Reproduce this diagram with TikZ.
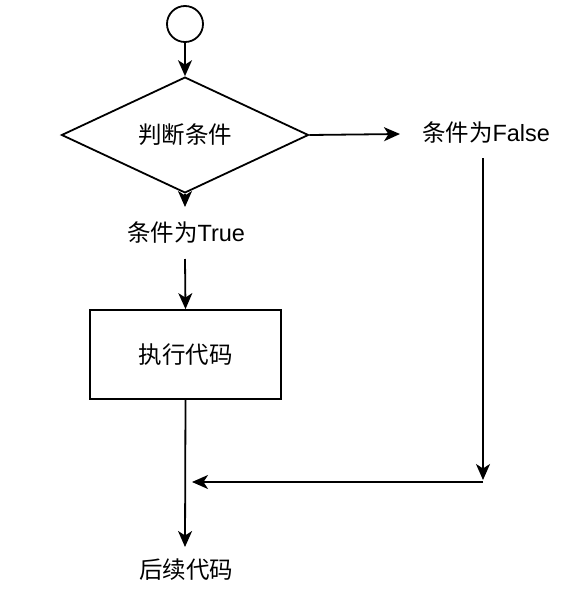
\documentclass[tikz,border=0pt]{standalone}
\usepackage{fontspec}
\setmainfont{Liberation Sans}
\newfontfamily\cjk{Noto Sans CJK SC}
\usetikzlibrary{shapes.geometric,arrows.meta}
\begin{document}
\begin{tikzpicture}[x=1pt,y=-1pt,
  line width=1.8pt,
  flow/.style={-{Stealth[length=16pt,width=14pt,inset=4.5pt]}},
  txt/.style={font=\fontsize{23.5}{27}\selectfont},
  lbl/.style={txt, inner sep=0pt},
  startc/.style={circle, draw, minimum size=36pt, inner sep=0pt},
  dia/.style={diamond, draw, minimum width=247pt, minimum height=94pt, inner sep=0pt, txt},
  box/.style={rectangle, draw, minimum width=191pt, minimum height=89pt, inner sep=0pt, txt}]
\useasboundingbox (0,0) rectangle (587,592);
\node[startc] (s) at (185,24) {};
\node[dia] (d) at (185,135) {\cjk 判断条件};
\node[lbl] (f) at (486,133) {{\cjk 条件为}False};
\node[lbl] (t) at (186,233) {{\cjk 条件为}True};
\node[box] (r) at (185.5,354.5) {\cjk 执行代码};
\node[lbl] (e) at (186,570) {\cjk 后续代码};
\coordinate (fa) at (400,134);
\coordinate (ft) at (483,158);
\coordinate (fb) at (483,482);
\coordinate (fbe) at (483,480);
\coordinate (m) at (192,482);
\coordinate (ta) at (185,207);
\coordinate (tb) at (185,259);
\coordinate (ea) at (185,547);
\draw[flow] (s.south) -- (d.north);
\draw[flow] (d.east) -- (fa);
\draw[flow] (ft) -- (fbe);
\draw[flow] (fb) -- (m);
\draw[flow] (d.south) -- (ta);
\draw[flow] (tb) -- (r.north);
\draw[flow] (r.south) -- (ea);
\end{tikzpicture}
\end{document}
